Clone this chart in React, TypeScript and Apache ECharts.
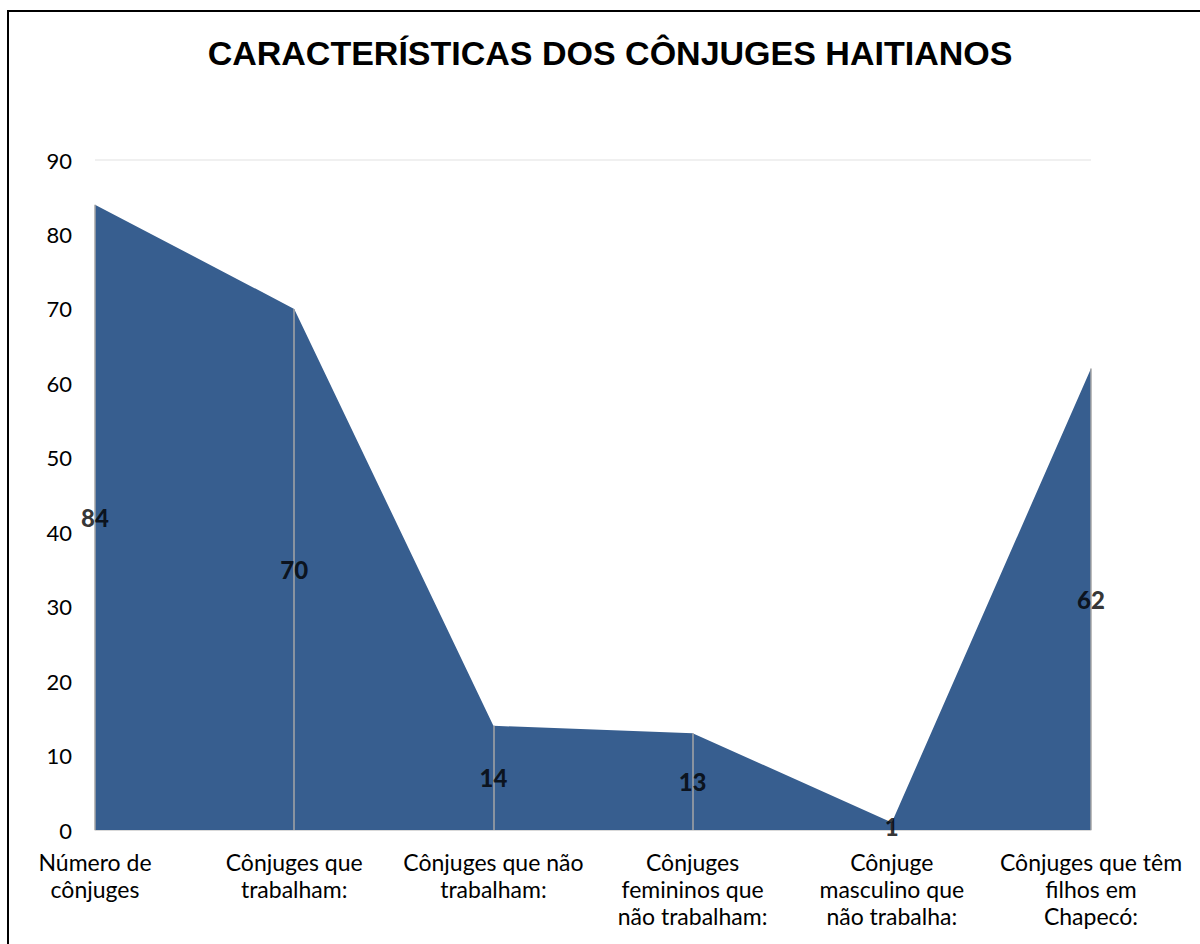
import React, { useEffect, useRef } from "react";
import * as echarts from "echarts";

const title = "CARACTERÍSTICAS DOS CÔNJUGES HAITIANOS";
const categories = [
  "Número de\ncônjuges",
  "Cônjuges que\ntrabalham:",
  "Cônjuges que não\ntrabalham:",
  "Cônjuges\nfemininos que\nnão trabalham:",
  "Cônjuge\nmasculino que\nnão trabalha:",
  "Cônjuges que têm\nfilhos em\nChapecó:",
];
const values = [84, 70, 14, 13, 1, 62];
const yMin = 0;
const yMax = 90;
const yInterval = 10;

const FONT = "Lato, 'Open Sans', sans-serif";

export default function App() {
  const ref = useRef<HTMLDivElement>(null);
  useEffect(() => {
    if (!ref.current) return;
    const chart = echarts.init(ref.current, null, { renderer: "svg" });
    chart.setOption({
      animation: false,
      backgroundColor: "#ffffff",
      title: {
        text: title,
        left: 605,
        textAlign: "center",
        top: 31,
        textStyle: {
          fontFamily: "'Liberation Sans', Arial, sans-serif",
          fontWeight: "bold",
          fontSize: 34,
          color: "#000",
        },
      },
      graphic: [
        {
          type: "rect",
          shape: { x: 8, y: 11, width: 1220, height: 960 },
          style: { fill: "none", stroke: "#000", lineWidth: 2 },
          silent: true,
        },
      ],
      grid: { left: 95, right: 109, top: 160, bottom: 114, containLabel: false },
      xAxis: {
        type: "category",
        boundaryGap: false,
        data: categories,
        axisLine: { show: true, lineStyle: { color: "#d9d9d9", width: 1 } },
        axisTick: { show: false },
        axisLabel: {
          interval: 0,
          fontFamily: FONT,
          fontSize: 23,
          color: "#000",
          lineHeight: 27,
          margin: 18,
          align: "center",
        },
        splitLine: { show: false },
      },
      yAxis: {
        type: "value",
        min: yMin,
        max: yMax,
        interval: yInterval,
        axisLine: { show: false },
        axisTick: { show: false },
        splitLine: { show: false },
        axisLabel: {
          fontFamily: FONT,
          fontSize: 22,
          color: "#000",
          margin: 23,
        },
      },
      series: [
        {
          type: "line",
          data: values,
          symbol: "none",
          lineStyle: { width: 0 },
          areaStyle: { color: "#375e8f", opacity: 1 },
          z: 2,
          markLine: {
            silent: true,
            symbol: "none",
            label: { show: false },
            lineStyle: { color: "#ebebeb", width: 1.5, type: "solid" },
            data: [
              [
                { yAxis: yMax, x: 95 },
                { yAxis: yMax, x: 1091 },
              ],
            ],
          },
        },
        {
          type: "line",
          data: values.map((v, i) => [i, v]),
          symbol: "none",
          lineStyle: { width: 0 },
          z: 3,
          markLine: {
            silent: true,
            symbol: "none",
            label: { show: false },
            lineStyle: { color: "#a6a6a6", width: 1.5, type: "solid" },
            data: values.map((v, i) => [
              { coord: [i, 0] },
              { coord: [i, v] },
            ]),
          },
        },
        {
          type: "scatter",
          data: values.map((v, i) => [i, v / 2]),
          symbolSize: 0,
          z: 5,
          label: {
            show: true,
            position: "inside",
            formatter: (p: any) => String(values[p.dataIndex]),
            fontFamily: FONT,
            fontWeight: 900,
            fontSize: 24,
            color: "#000",
          },
        },
      ],
    });
    return () => chart.dispose();
  }, []);
  return (
    <div
      ref={ref}
      style={{ position: "fixed", left: 0, top: 0, width: 1200, height: 944 }}
    />
  );
}
